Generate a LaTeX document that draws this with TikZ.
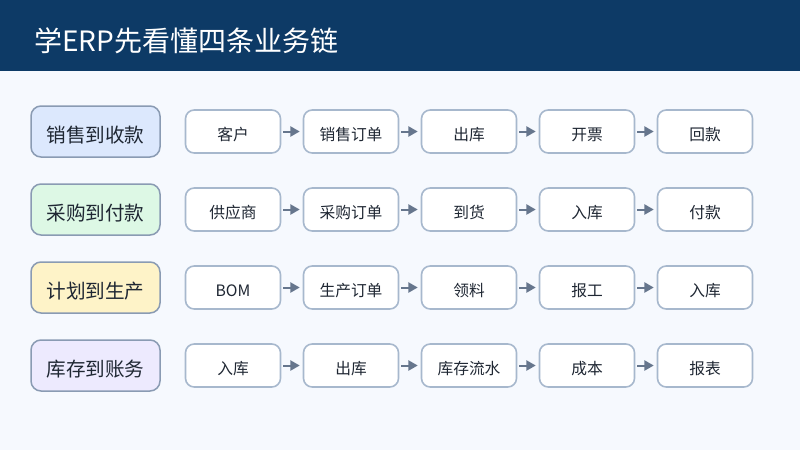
\documentclass[tikz,border=0pt]{standalone}
\usepackage{fontspec}
\setmainfont{Noto Sans CJK SC}
\usetikzlibrary{arrows.meta}
\definecolor{hdr}{HTML}{0D3A66}
\definecolor{bg}{HTML}{F6F9FE}
\definecolor{lblue}{HTML}{DCE8FD}
\definecolor{lgreen}{HTML}{DDF8E5}
\definecolor{lyellow}{HTML}{FEF3C8}
\definecolor{lpurple}{HTML}{EDEAFE}
\definecolor{lstroke}{HTML}{8A9BB3}
\definecolor{sstroke}{HTML}{A7B8CD}
\definecolor{arr}{HTML}{66768D}
\definecolor{txt}{HTML}{1F2733}
\tikzset{
  lbl/.style={draw=lstroke, line width=1.5pt*0.75, rounded corners=7.5pt, minimum width=129*0.75pt, minimum height=51*0.75pt, inner sep=0pt, text=txt, font=\fontsize{14.7}{16}\selectfont, text height=16.6pt, text depth=0pt},
  stepbox/.style={draw=sstroke, fill=white, line width=1.6pt*0.75, rounded corners=6.5pt, minimum width=95*0.75pt, minimum height=43*0.75pt, inner sep=0pt, text=txt, font=\fontsize{11.8}{13}\selectfont, text height=13.6pt, text depth=0pt},
  flow/.style={draw=arr, line width=1.5pt, -{Triangle[length=7pt,width=7.5pt]}, shorten <=1.5pt, shorten >=2.2pt},
}
\begin{document}
\begin{tikzpicture}[x=0.75pt,y=-0.75pt]
\path[fill=bg] (0,0) rectangle (800,450);
\useasboundingbox (0,0) rectangle (800,450);
\path[fill=hdr] (0,0) rectangle (800,70.5);
\node[anchor=west, text=white, font=\fontsize{21}{24}\selectfont, inner sep=0pt] (title) at (34,41) {学ERP先看懂四条业务链};
% row 1
\node[lbl, fill=lblue] (r1) at (95.5,131.5) {销售到收款};
\node[stepbox] (a1) at (233,131.5) {客户};
\node[stepbox] (a2) at (351,131.5) {销售订单};
\node[stepbox] (a3) at (469,131.5) {出库};
\node[stepbox] (a4) at (587,131.5) {开票};
\node[stepbox] (a5) at (705,131.5) {回款};
% row 2
\node[lbl, fill=lgreen] (r2) at (95.5,209.5) {采购到付款};
\node[stepbox] (b1) at (233,209.5) {供应商};
\node[stepbox] (b2) at (351,209.5) {采购订单};
\node[stepbox] (b3) at (469,209.5) {到货};
\node[stepbox] (b4) at (587,209.5) {入库};
\node[stepbox] (b5) at (705,209.5) {付款};
% row 3
\node[lbl, fill=lyellow] (r3) at (95.5,287.5) {计划到生产};
\node[stepbox] (c1) at (233,287.5) {BOM};
\node[stepbox] (c2) at (351,287.5) {生产订单};
\node[stepbox] (c3) at (469,287.5) {领料};
\node[stepbox] (c4) at (587,287.5) {报工};
\node[stepbox] (c5) at (705,287.5) {入库};
% row 4
\node[lbl, fill=lpurple] (r4) at (95.5,365.5) {库存到账务};
\node[stepbox] (d1) at (233,365.5) {入库};
\node[stepbox] (d2) at (351,365.5) {出库};
\node[stepbox] (d3) at (469,365.5) {库存流水};
\node[stepbox] (d4) at (587,365.5) {成本};
\node[stepbox] (d5) at (705,365.5) {报表};
\foreach \r in {a,b,c,d}{
  \draw[flow] (\r1) -- (\r2);
  \draw[flow] (\r2) -- (\r3);
  \draw[flow] (\r3) -- (\r4);
  \draw[flow] (\r4) -- (\r5);
}
\end{tikzpicture}
\end{document}
